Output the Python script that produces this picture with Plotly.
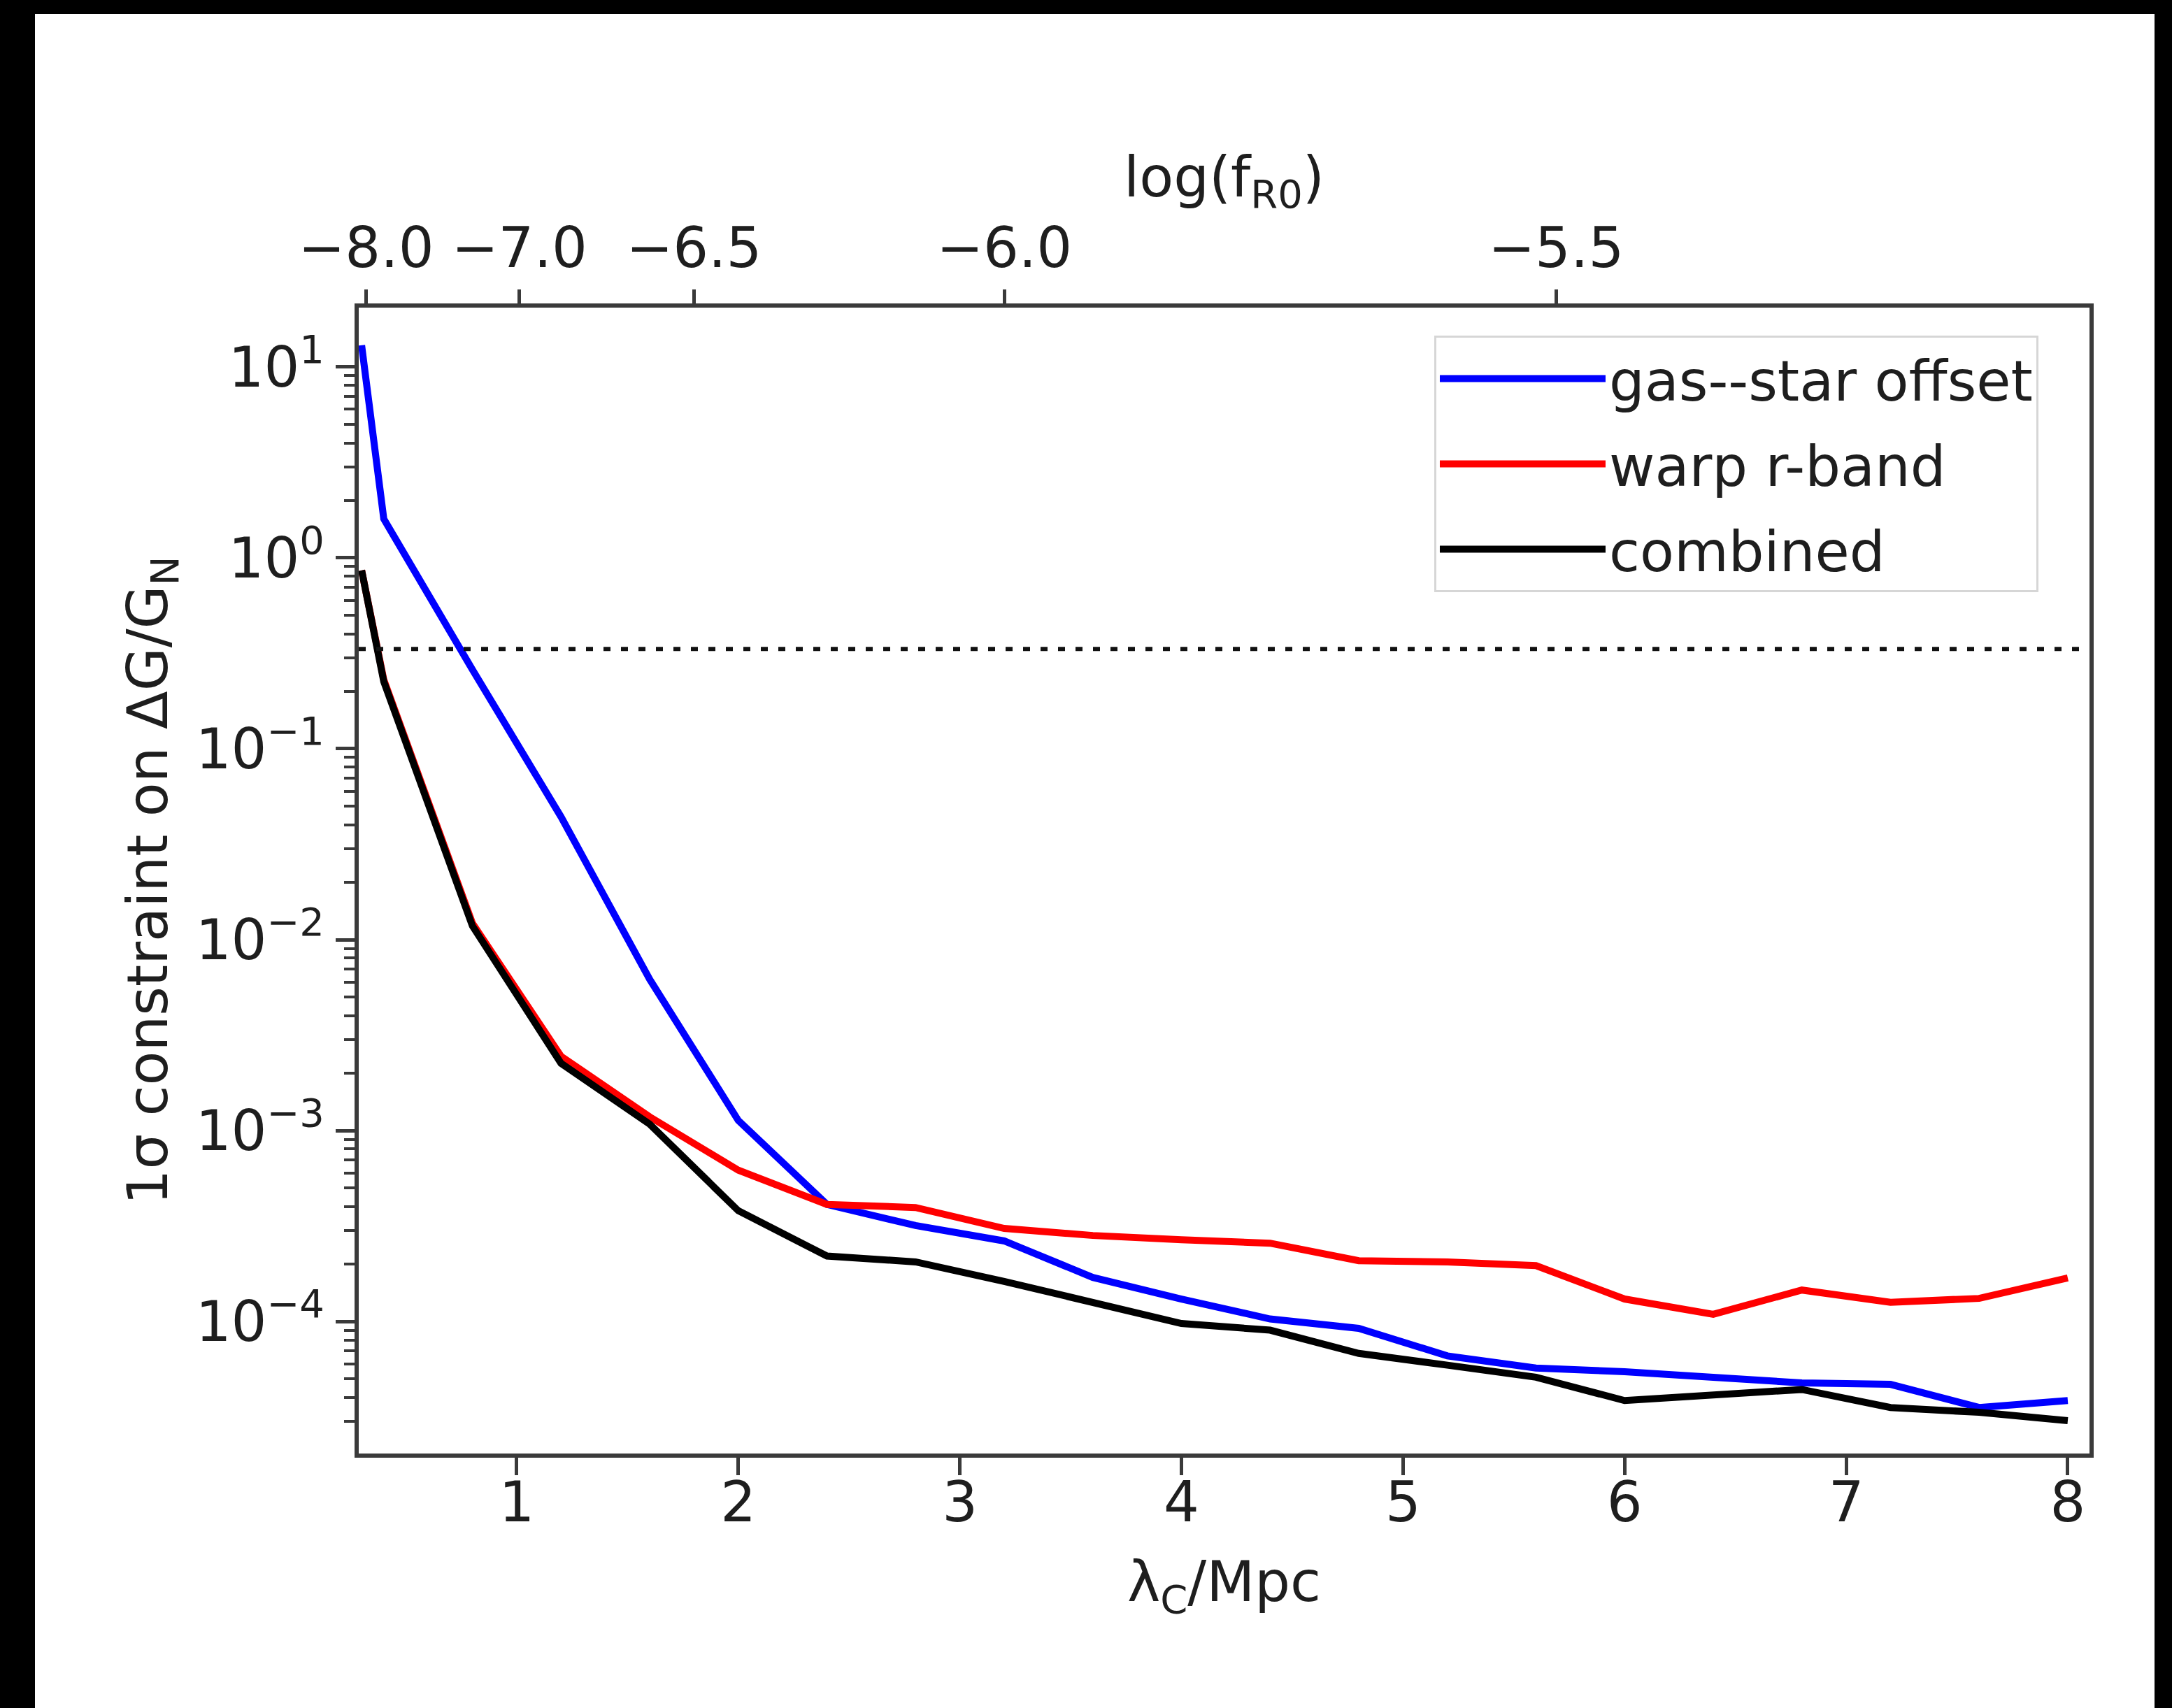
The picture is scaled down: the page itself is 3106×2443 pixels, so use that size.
import plotly.graph_objects as go

# ---------------- data ----------------
lambda_c = [0.3, 0.4, 0.8, 1.2, 1.6, 2.0, 2.4, 2.8, 3.2, 3.6, 4.0,
            4.4, 4.8, 5.2, 5.6, 6.0, 6.4, 6.8, 7.2, 7.6, 8.0]

gas_star_offset = [13.0, 1.6, 0.26, 0.044, 0.0062, 0.00113, 4.1e-4, 3.18e-4,
                   2.64e-4, 1.70e-4, 1.31e-4, 1.03e-4, 9.2e-5, 6.6e-5, 5.7e-5,
                   5.45e-5, 5.1e-5, 4.76e-5, 4.68e-5, 3.54e-5, 3.85e-5]

warp_r_band = [0.86, 0.23, 0.0122, 0.00245, 0.00118, 6.2e-4, 4.1e-4, 3.95e-4,
               3.07e-4, 2.82e-4, 2.68e-4, 2.57e-4, 2.08e-4, 2.05e-4, 1.96e-4,
               1.31e-4, 1.09e-4, 1.46e-4, 1.26e-4, 1.32e-4, 1.69e-4]

combined = [0.86, 0.225, 0.0118, 0.00225, 0.00108, 3.8e-4, 2.2e-4, 2.05e-4,
            1.62e-4, 1.26e-4, 9.75e-5, 9.0e-5, 6.8e-5, 5.9e-5, 5.1e-5,
            3.85e-5, 4.1e-5, 4.4e-5, 3.54e-5, 3.34e-5, 3.02e-5]

threshold = 1.0 / 3.0

x_ticks = [1, 2, 3, 4, 5, 6, 7, 8]
y_tick_exponents = [-4, -3, -2, -1, 0, 1]
log_fr0_ticks = [-8.0, -7.0, -6.5, -6.0, -5.5]
log_fr0_labels = ["\u22128.0", "\u22127.0", "\u22126.5", "\u22126.0", "\u22125.5"]
# lambda_C [Mpc] corresponding to log(f_R0):  lambda_C = 3.2 * sqrt(f_R0 / 1e-6)
LAMBDA_AT_1EM6 = 3.2

# ---------------- derived axis helpers ----------------
top_tickvals = [LAMBDA_AT_1EM6 * 10 ** ((v + 6.0) / 2.0) for v in log_fr0_ticks]
y_tickvals = [10.0 ** e for e in y_tick_exponents]
y_ticktext = ["10<sup>" + ("\u2212" if e < 0 else "") + str(abs(e)) + "</sup>"
              for e in y_tick_exponents]
minor_vals = [m * 10.0 ** e for e in range(-5, 1) for m in range(2, 10)]

X_RANGE = [0.287, 8.098]
Y_RANGE = [-4.692, 1.311]

FONT = "DejaVu Sans"
AXC = "#3a3a3a"
TXT = "#1e1e1e"
LW = 10

fig = go.Figure()
fig.add_trace(go.Scatter(x=lambda_c, y=gas_star_offset, mode="lines",
                         name="gas--star offset", legendgroup="a",
                         line=dict(color="#0000ff", width=LW)))
fig.add_trace(go.Scatter(x=lambda_c, y=warp_r_band, mode="lines",
                         name="warp r-band", legendgroup="b",
                         line=dict(color="#ff0000", width=LW)))
fig.add_trace(go.Scatter(x=lambda_c, y=combined, mode="lines",
                         name="combined", legendgroup="c",
                         line=dict(color="#000000", width=LW)))
# invisible carrier so that the secondary (top) log(f_R0) axis is drawn
fig.add_trace(go.Scatter(x=lambda_c, y=combined, xaxis="x2", yaxis="y",
                         mode="lines", opacity=0, showlegend=False,
                         hoverinfo="skip", line=dict(width=0)))

fig.add_hline(y=threshold, line=dict(color="#111111", width=6, dash="10px,15px"))

tick_common = dict(ticks="outside", tickcolor=AXC, tickwidth=5,
                   showgrid=False, zeroline=False,
                   tickfont=dict(family=FONT, size=80, color=TXT))

fig.update_layout(
    width=3106, height=2443,
    margin=dict(l=513, r=118, t=440, b=364, autoexpand=False),
    paper_bgcolor="white", plot_bgcolor="white",
    font=dict(family=FONT, size=80, color=TXT),
    showlegend=True,
    legend=dict(x=0.6214, y=0.9756, xanchor="left", yanchor="top",
                bgcolor="white", bordercolor="#d6d6d6", borderwidth=3,
                font=dict(family=FONT, size=80, color=TXT),
                itemwidth=237, tracegroupgap=15),
    xaxis=dict(range=X_RANGE, tickmode="array", tickvals=x_ticks,
               ticklen=25, showline=True, linecolor=AXC, linewidth=6,
               mirror=True, automargin=False, ticklabelstandoff=-30,
               title=dict(text="\u03bb<sub>C</sub>/Mpc", standoff=42,
                          font=dict(family=FONT, size=80, color=TXT)),
               **tick_common),
    xaxis2=dict(overlaying="x", side="top", anchor="y", range=X_RANGE,
                tickmode="array", tickvals=top_tickvals, ticktext=log_fr0_labels,
                ticklen=25, showline=False, automargin=False,
                title=dict(text="log(f<sub>R0</sub>)", standoff=0,
                           font=dict(family=FONT, size=80, color=TXT)),
                **tick_common),
    yaxis=dict(type="log", range=Y_RANGE, tickmode="array",
               tickvals=y_tickvals, ticktext=y_ticktext,
               ticklen=27, showline=True, linecolor=AXC, linewidth=6,
               mirror=True, automargin=False,
               minor=dict(ticks="outside", ticklen=15, tickwidth=4,
                          tickcolor=AXC, tickmode="array", tickvals=minor_vals,
                          showgrid=False),
               title=dict(text="1\u03c3 constraint on \u0394G/G<sub>N</sub>",
                          standoff=16, font=dict(family=FONT, size=80, color=TXT)),
               **tick_common),
)

# black frame bands of the original picture (top, left, right)
for x0, x1, y0, y1 in [(-0.3, 1.3, 1.2563, 1.35),
                       (-0.3, -0.18707, -0.3, 1.35),
                       (1.03758, 1.3, -0.3, 1.35)]:
    fig.add_shape(type="rect", xref="paper", yref="paper", x0=x0, x1=x1,
                  y0=y0, y1=y1, fillcolor="black", line=dict(width=0),
                  layer="above")

fig.write_html("out.html")
